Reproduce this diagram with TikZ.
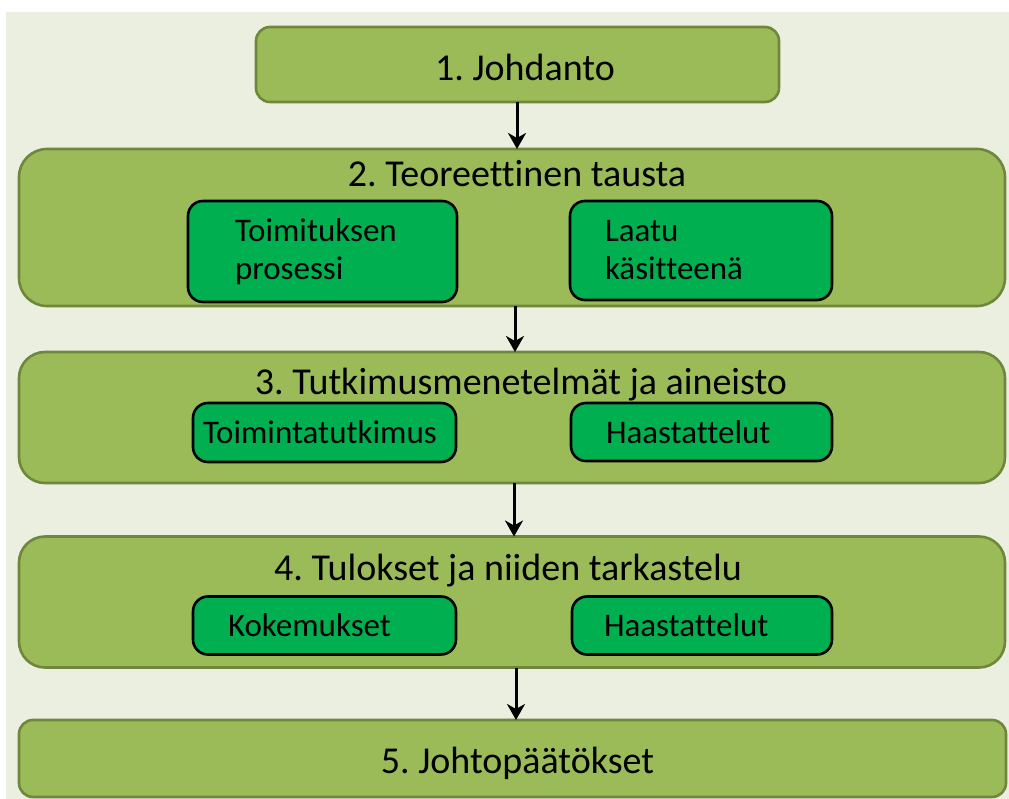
\documentclass[tikz,border=0pt]{standalone}
\usepackage{fontspec}
\setmainfont{Carlito}[Ligatures=NoCommon]
\frenchspacing
\usetikzlibrary{arrows.meta}
\definecolor{pagebg}{HTML}{EBEFE0}
\definecolor{olivefill}{HTML}{9BBB59}
\definecolor{olivedraw}{HTML}{6E873B}
\definecolor{itemfill}{HTML}{00B050}
\tikzset{
  chapter/.style={draw=olivedraw, fill=olivefill, line width=2.6pt, rectangle,
    inner sep=0pt, outer sep=0pt},
  title/.style={anchor=base, inner sep=0pt, font=\fontsize{38}{46}\selectfont},
  item/.style={draw=black, fill=itemfill, line width=2.6pt, rectangle,
    rounded corners=15pt, inner ysep=0pt, outer sep=0pt, align=left,
    font=\fontsize{33}{38}\selectfont},
  flow/.style={line width=3pt, -{Stealth[length=16pt,width=18pt,inset=5pt]}},
}
\begin{document}
\begin{tikzpicture}[x=1pt,y=-1pt]
  % page and background panel
  \useasboundingbox (0,0) rectangle (1009,799);
  \fill[white] (0,0) rectangle (1009,799);
  \fill[pagebg] (6,12) rectangle (1009,799);

  % chapter boxes
  \node[chapter, rounded corners=14pt, minimum width=523pt, minimum height=75pt]
    (c1) at (517.5,64.5) {};
  \node[chapter, rounded corners=28pt, minimum width=986pt, minimum height=157pt]
    (c2) at (512,227.5) {};
  \node[chapter, rounded corners=26pt, minimum width=986pt, minimum height=131pt]
    (c3) at (512,417.5) {};
  \node[chapter, rounded corners=26pt, minimum width=986pt, minimum height=131pt]
    (c4) at (512,602) {};
  \node[chapter, rounded corners=14pt, minimum width=987pt, minimum height=77pt]
    (c5) at (512.5,758.5) {};

  % chapter titles
  \node[title] (t1) at (525,81) {1. Johdanto};
  \node[title] (t2) at (517,187) {2. Teoreettinen tausta};
  \node[title] (t3) at (521,394) {3. Tutkimusmenetelmät ja aineisto};
  \node[title] (t4) at (508,580) {4. Tulokset ja niiden tarkastelu};
  \node[title] (t5) at (517.5,773) {5. Johtopäätökset};

  % sub-topics
  \node[item, inner xsep=47pt, text width=175pt, minimum height=101pt]
    (i21) at (322.5,251.5) {Toimituksen\\prosessi};
  \node[item, inner xsep=35pt, text width=192pt, minimum height=99pt]
    (i22) at (701,250.5) {Laatu\\käsitteenä};
  \node[item, inner xsep=10pt, text width=243pt, minimum height=59pt]
    (i31) at (324.5,432.5) {Toimintatutkimus};
  \node[item, inner xsep=35pt, text width=191pt, minimum height=58pt]
    (i32) at (701.5,432) {Haastattelut};
  \node[item, inner xsep=35pt, text width=193pt, minimum height=58pt]
    (i41) at (324.5,625.5) {Kokemukset};
  \node[item, inner xsep=32pt, text width=196pt, minimum height=58pt]
    (i42) at (702,625.5) {Haastattelut};

  % flow between chapters
  \draw[flow] (c1.south -| 517,0) -- (c2.north -| 517,0);
  \draw[flow] (c2.south -| 515,0) -- (c3.north -| 515,0);
  \draw[flow] (c3.south -| 514,0) -- (c4.north -| 514,0);
  \draw[flow] (c4.south -| 516,0) -- (c5.north -| 516,0);
\end{tikzpicture}
\end{document}
